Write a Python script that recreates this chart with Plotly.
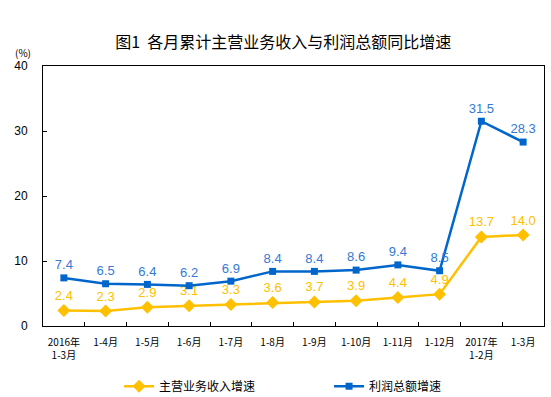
import plotly.graph_objects as go

categories = ["2016年<br>1-3月", "1-4月", "1-5月", "1-6月", "1-7月", "1-8月",
              "1-9月", "1-10月", "1-11月", "1-12月", "2017年<br>1-2月", "1-3月"]
revenue_growth = [2.4, 2.3, 2.9, 3.1, 3.3, 3.6, 3.7, 3.9, 4.4, 4.9, 13.7, 14.0]
profit_growth = [7.4, 6.5, 6.4, 6.2, 6.9, 8.4, 8.4, 8.6, 9.4, 8.5, 31.5, 28.3]
y_ticks = [0, 10, 20, 30, 40]

CJK = "Noto Sans CJK SC"
NUM = "Liberation Sans, Arial"

fig = go.Figure()
fig.add_trace(go.Scatter(
    x=categories, y=revenue_growth, name="主营业务收入增速",
    mode="lines+markers+text",
    line=dict(color="#FFC000", width=2.5),
    marker=dict(symbol="diamond", size=10, color="#FFC000"),
    text=[f"{v:.1f}" for v in revenue_growth], textposition="top center",
    textfont=dict(color="#FFC000", size=13, family=NUM),
    cliponaxis=False,
))
fig.add_trace(go.Scatter(
    x=categories, y=profit_growth, name="利润总额增速",
    mode="lines+markers+text",
    line=dict(color="#0066CC", width=2.5),
    marker=dict(symbol="square", size=7, color="#0066CC"),
    text=[f"{v:.1f}" for v in profit_growth], textposition="top center",
    textfont=dict(color="#3379D6", size=13, family=NUM),
    cliponaxis=False,
))

fig.update_layout(
    width=551, height=397,
    margin=dict(l=43, r=7, t=66, b=71, autoexpand=False),
    paper_bgcolor="white", plot_bgcolor="white",
    title=dict(text="图1  各月累计主营业务收入与利润总额同比增速",
               x=0.514, xanchor="center", y=1 - 42 / 397, yanchor="middle",
               font=dict(family=CJK, size=16, color="#000000")),
    showlegend=True,
    legend=dict(orientation="h", x=0.571, xanchor="center", y=-0.176, yanchor="top",
                entrywidth=165, entrywidthmode="pixels",
                font=dict(family=CJK, size=12, color="#000000"),
                bgcolor="rgba(0,0,0,0)"),
    font=dict(family=CJK, color="#000000"),
)
fig.update_xaxes(
    type="category", showline=True, linecolor="#000000", linewidth=1, mirror=True,
    ticks="inside", ticklen=4, tickcolor="#000000", tickson="boundaries",
    showgrid=False, tickfont=dict(family=CJK, size=10, color="#000000"),
    ticklabelstandoff=7, range=[-0.5, 11.5],
)
fig.update_yaxes(
    range=[0, 40], tickvals=y_ticks, showline=True, linecolor="#000000", linewidth=1,
    mirror=True, ticks="inside", ticklen=4, tickcolor="#000000", showgrid=False,
    zeroline=False, tickfont=dict(family=NUM, size=12, color="#000000"),
    ticklabelstandoff=12,
)
fig.add_annotation(text="(%)", xref="paper", yref="paper", x=-0.04, y=1.05,
                   xanchor="center", yanchor="middle",
                   showarrow=False, font=dict(family=CJK, size=10, color="#000000"))

fig.write_html("out.html", config={"displayModeBar": False},
               post_script="document.body.style.margin='0';")
